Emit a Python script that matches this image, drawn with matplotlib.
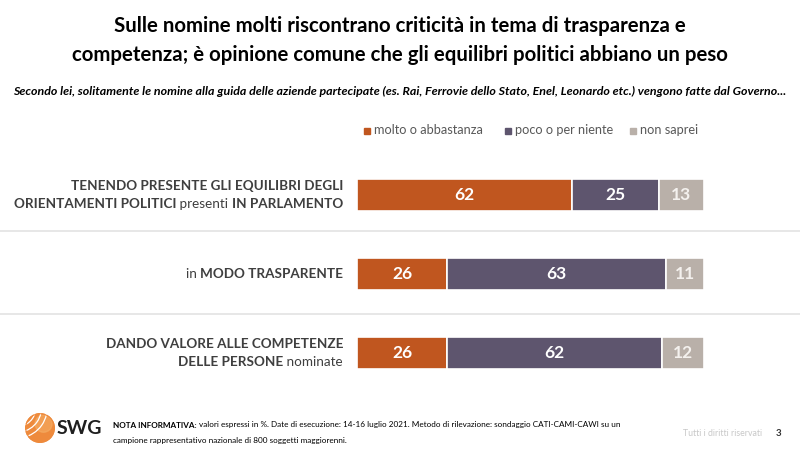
import matplotlib.pyplot as plt
import matplotlib.transforms as mtransforms
from matplotlib.patches import Circle, Rectangle, Arc
import numpy as np

plt.rcParams['font.family'] = ['Lato', 'DejaVu Sans']

# Dati
categorie = [
    [[("TENENDO PRESENTE GLI EQUILIBRI DEGLI", True)],
     [("ORIENTAMENTI POLITICI", True), (" presenti ", False), ("IN PARLAMENTO", True)]],
    [[("in ", False), ("MODO TRASPARENTE", True)]],
    [[("DANDO VALORE ALLE COMPETENZE", True)],
     [("DELLE PERSONE", True), (" nominate", False)]],
]
molto = [62, 26, 26]
poco = [25, 63, 62]
non_so = [13, 11, 12]
serie_nomi = ['molto o abbastanza', 'poco o per niente', 'non saprei']
colori = ['#C0561F', '#5E556E', '#B9B0A9']

W, H = 800, 453
fig = plt.figure(figsize=(8, 4.53), dpi=100)
fig.patch.set_facecolor('white')

def fx(px):
    return px / W

def fy(py):
    return 1 - py / H

# Assi delle barre: x 0..100 -> px 357..704, y -0.5..2.5 -> px 155.5..392.5
ax = fig.add_axes([fx(357), fy(392.5), fx(704) - fx(357), fy(155.5) - fy(392.5)])
ax.set_xlim(0, 100)
ax.set_ylim(2.5, -0.5)
ax.axis('off')

y = np.arange(len(molto))
left = np.zeros(len(molto))
for vals, col in zip([molto, poco, non_so], colori):
    ax.barh(y, vals, left=left, height=0.41, color=col, edgecolor='white', linewidth=1.2)
    for yi, l, v in zip(y, left, vals):
        tcol = 'white' if col != colori[2] else '#F4F1EE'
        ax.text(l + v / 2, yi, str(v), ha='center', va='center', color=tcol,
                fontsize=12.5, fontweight='bold')
    left += np.array(vals)

# Linee separatrici su tutta la larghezza
trans = mtransforms.blended_transform_factory(fig.transFigure, ax.transData)
for ys in [0.45, 1.5]:
    ax.plot([0, 1], [ys, ys], transform=trans, color='#E3E3E3', lw=1.2, clip_on=False)

# Etichette categorie (testo misto grassetto/normale, allineato a destra)
renderer = fig.canvas.get_renderer()

def riga_mista(parts, x_right_px, y_px, size, color):
    # disegna pezzi da destra a sinistra
    x = x_right_px
    for txt, bold in reversed(parts):
        t = fig.text(fx(x), fy(y_px), txt, ha='right', va='center', fontsize=size,
                     fontweight='bold' if bold else 'normal', color=color)
        bb = t.get_window_extent(renderer=renderer)
        x -= bb.width

for i, righe in enumerate(categorie):
    yc = 195 + i * 79
    n = len(righe)
    for j, parts in enumerate(righe):
        ypx = yc + (j - (n - 1) / 2) * 18.5
        riga_mista(parts, 343, ypx, 9.7, '#3F3F3F')

# Titolo e sottotitolo
fig.text(0.5, fy(26), "Sulle nomine molti riscontrano criticità in tema di trasparenza e",
         ha='center', va='center', fontsize=14.7, fontweight='bold', color='black')
fig.text(0.5, fy(55), "competenza; è opinione comune che gli equilibri politici abbiano un peso",
         ha='center', va='center', fontsize=14.7, fontweight='bold', color='black')
fig.text(0.5, fy(91), "Secondo lei, solitamente le nomine alla guida delle aziende partecipate "
         "(es. Rai, Ferrovie dello Stato, Enel, Leonardo etc.) vengono fatte dal Governo...",
         ha='center', va='center', fontsize=8.9, fontweight='bold', style='italic', color='black')

# Legenda
leg_x = [364, 505, 630]
for lx, nome, col in zip(leg_x, serie_nomi, colori):
    fig.patches.append(Rectangle((fx(lx), fy(134)), 6 / W, 6 / H, transform=fig.transFigure,
                                 color=col, figure=fig))
    fig.text(fx(lx + 10), fy(130.5), nome, ha='left', va='center', fontsize=9.2, color='#595959')

# Piè di pagina: logo in un piccolo asse con aspetto uguale
lax = fig.add_axes([fx(25), fy(443), 30 / W, 30 / H])
lax.set_xlim(-1.05, 1.05)
lax.set_ylim(-1.05, 1.05)
lax.set_aspect('equal')
lax.axis('off')
lax.add_patch(Circle((0, 0), 1, color='#EE8A3C'))
lax.add_patch(Circle((0.25, 0.3), 0.6, color='#F6B36A', alpha=0.5))
for r in [1.3, 1.7, 2.1]:
    lax.add_patch(Arc((-1.6, 1.4), 2 * r, 2 * r, theta1=-80, theta2=10, color='white', lw=0.9))
lax.add_patch(Circle((0, 0), 1, fill=False, color='#EE8A3C', lw=0.8))
fig.text(fx(57), fy(429), "SWG", ha='left', va='center', fontsize=14, fontweight='bold',
         color='#1F1F1F')

fig.text(fx(113), fy(425), "NOTA INFORMATIVA:", ha='left', va='center', fontsize=5.9,
         fontweight='bold', color='black')
t0 = fig.texts[-1]
bw = t0.get_window_extent(renderer=renderer).width
fig.text(fx(113 + bw + 2.5), fy(425),
         "valori espressi in %. Date di esecuzione: 14-16 luglio 2021. Metodo di rilevazione: "
         "sondaggio CATI-CAMI-CAWI su un", ha='left', va='center', fontsize=5.9, color='black')
fig.text(fx(113), fy(441), "campione rappresentativo nazionale di 800 soggetti maggiorenni.",
         ha='left', va='center', fontsize=5.9, color='black')
fig.text(fx(762), fy(433), "Tutti i diritti riservati", ha='right', va='center', fontsize=6.3,
         color='#C8C8C8')
fig.text(fx(779), fy(433), "3", ha='center', va='center', fontsize=7, fontweight='bold',
         color='#333333')

fig.savefig("out.png", dpi=100)
